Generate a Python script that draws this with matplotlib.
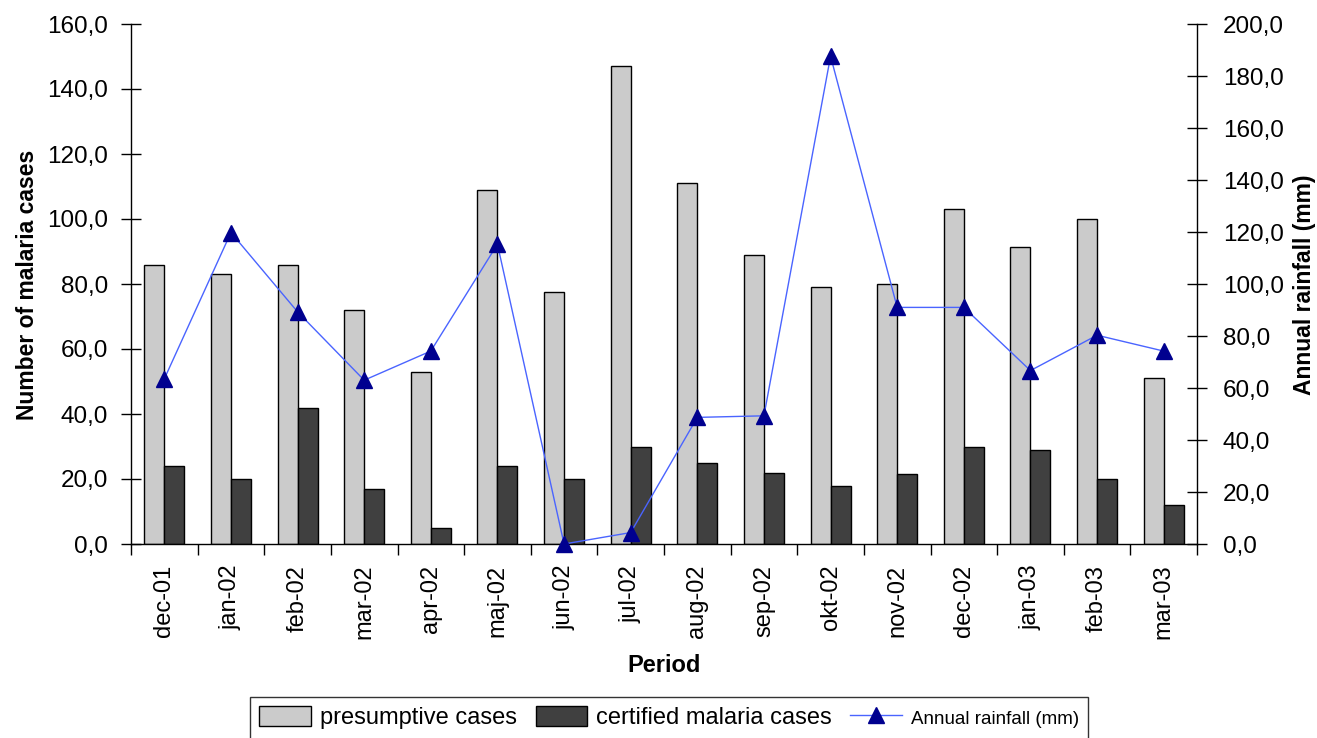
import numpy as np
import matplotlib; matplotlib.use("Agg")
import matplotlib.pyplot as plt
from matplotlib.ticker import FuncFormatter

periods = ["dec-01", "jan-02", "feb-02", "mar-02", "apr-02", "maj-02", "jun-02", "jul-02",
           "aug-02", "sep-02", "okt-02", "nov-02", "dec-02", "jan-03", "feb-03", "mar-03"]
presumptive = [86, 83, 86, 72, 53, 109, 77.5, 147, 111, 89, 79, 80, 103, 91.5, 100, 51]
certified = [24, 20, 42, 17, 5, 24, 20, 30, 25, 22, 18, 21.5, 30, 29, 20, 12]
rainfall = [63.5, 119.8, 89.3, 63.0, 74.2, 115.3, 0.0, 4.4, 48.7, 49.3, 187.6, 91.0, 91.0, 66.7, 80.3, 74.2]

INK = "black"; LIGHT = "#cbcbcb"; DARK = "#404040"; LINEC = "#4a64ff"; MARK = "#00008f"
plt.rcParams.update({"font.family": "Liberation Sans", "font.size": 16})

W, H = 1317, 738
fig = plt.figure(figsize=(W/100, H/100), dpi=100)
ax = fig.add_axes([131/W, 1-544/H, (1197-131)/W, (544-24)/H])
x = np.arange(len(periods)); bw = 0.3
ax.bar(x-bw/2, presumptive, bw, color=LIGHT, edgecolor=INK, linewidth=1, label="presumptive cases")
ax.bar(x+bw/2, certified, bw, color=DARK, edgecolor=INK, linewidth=1, label="certified malaria cases")
ax.set_xlim(-0.5, len(periods)-0.5); ax.set_ylim(0, 160)
ax.set_yticks(np.arange(0, 161, 20))
fmt = FuncFormatter(lambda v, p: f"{v:.1f}".replace(".", ","))
ax.yaxis.set_major_formatter(fmt)
ax.tick_params(axis="y", direction="inout", length=15, width=1, pad=9, labelsize=17.5)
ax.set_xticks(np.arange(-0.5, len(periods), 1)); ax.set_xticklabels([])
ax.set_xticks(x, minor=True); ax.set_xticklabels(periods, minor=True, rotation=90)
ax.tick_params(axis="x", which="major", direction="out", length=8, width=1)
ax.tick_params(axis="x", which="minor", length=0, pad=15, labelsize=17)
for s in ("top", "right"): ax.spines[s].set_visible(False)
for s in ("left", "bottom"): ax.spines[s].set_linewidth(1)

ax2 = ax.twinx()
ax2.plot(x, rainfall, color=LINEC, lw=1, marker="^", ms=11, mfc=MARK, mec=MARK,
         label="Annual rainfall (mm)", clip_on=False, zorder=5)
ax2.set_ylim(0, 200); ax2.set_yticks(np.arange(0, 201, 20))
ax2.yaxis.set_major_formatter(fmt)
ax2.tick_params(axis="y", direction="inout", length=15, width=1, pad=11, labelsize=17.5)
for s in ("top", "left", "bottom"): ax2.spines[s].set_visible(False)
ax2.spines["right"].set_linewidth(1)

fig.text(28/W, 1-285/H, "Number of malaria cases", rotation=90, ha="center", va="center",
         fontsize=16.5, fontweight="bold")
fig.text(1304/W, 1-285/H, "Annual rainfall (mm)", rotation=90, ha="center", va="center",
         fontsize=16.5, fontweight="bold")
fig.text(664/W, 1-665/H, "Period", ha="center", va="center", fontsize=17, fontweight="bold")

h1, l1 = ax.get_legend_handles_labels(); h2, l2 = ax2.get_legend_handles_labels()
leg = fig.legend(h1+h2, l1+l2, loc="upper left", bbox_to_anchor=(250/W, 1-697/H), ncol=3,
                 fontsize=17, frameon=True, fancybox=False, edgecolor=INK, borderaxespad=0,
                 borderpad=0.4, handlelength=2.2, handleheight=0.9, handletextpad=0.35,
                 columnspacing=0.8)
leg.get_frame().set_linewidth(1)
leg.get_texts()[2].set_fontsize(13.5)

fig.savefig("out.png", dpi=100)
